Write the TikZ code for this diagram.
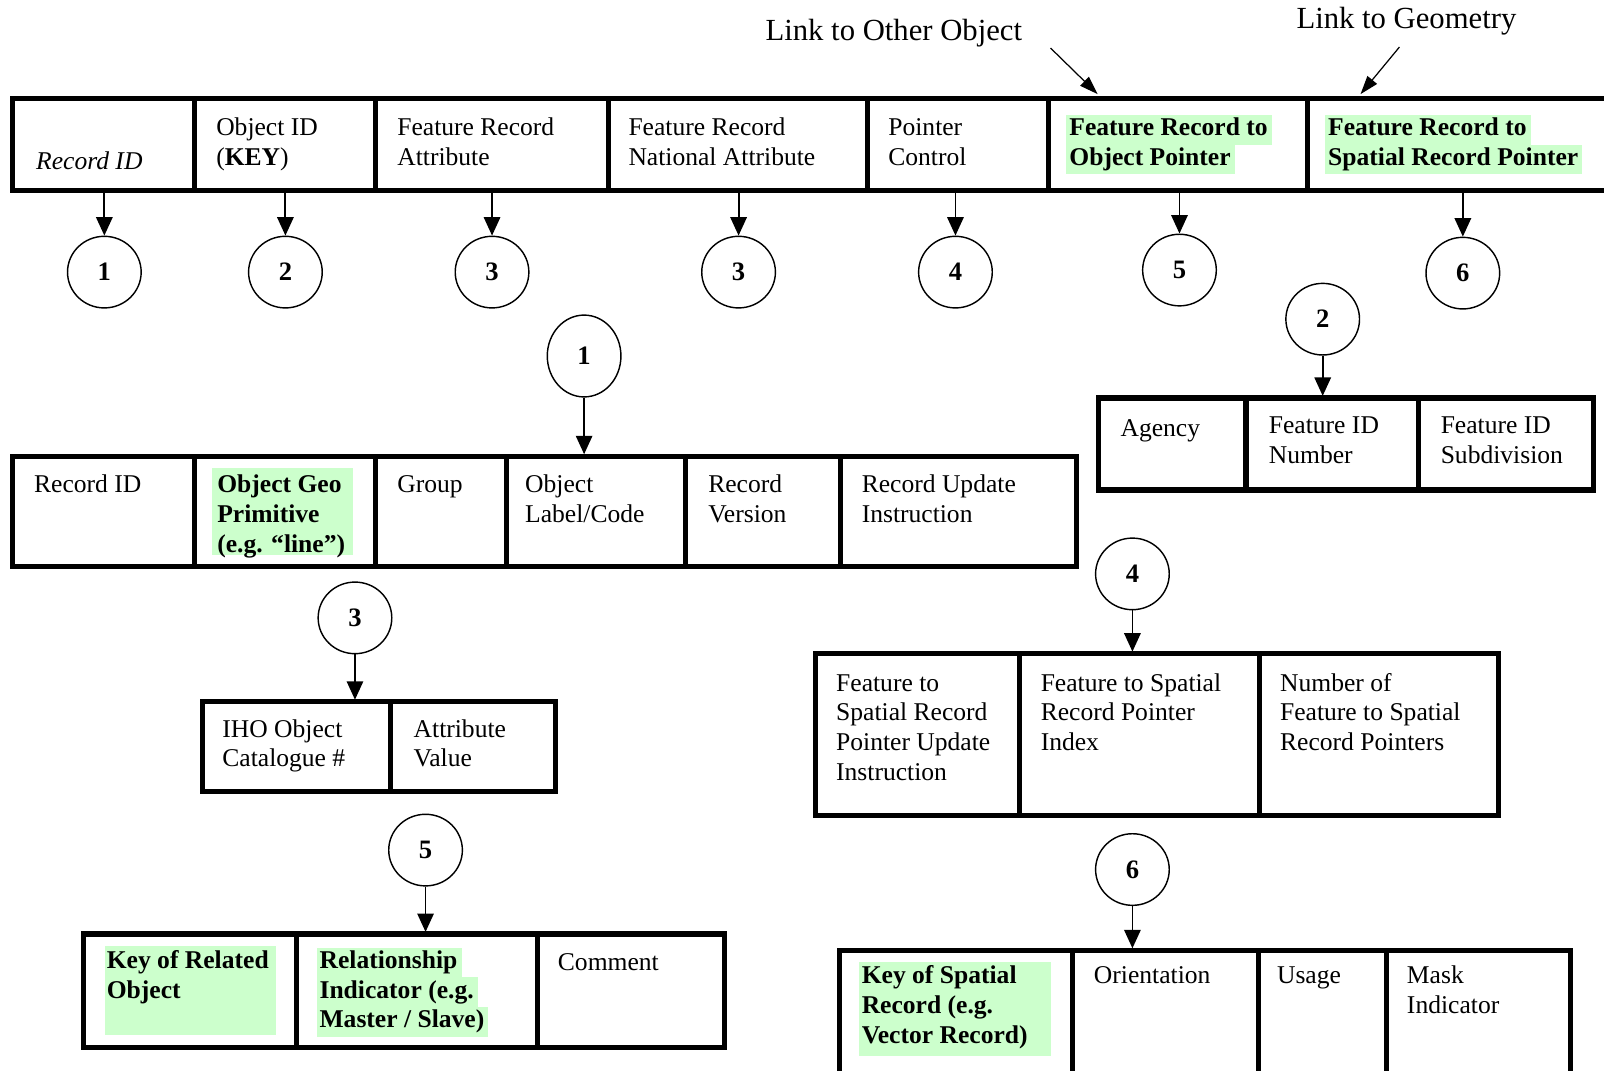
\documentclass[tikz,border=0pt]{standalone}
\usepackage{fontspec}
\setmainfont{Liberation Serif}
\usetikzlibrary{shapes.geometric,arrows.meta}
\definecolor{hl}{RGB}{204,255,204}
\setlength{\fboxsep}{0pt}
\newcommand{\hlline}[1]{\colorbox{hl}{\strut\kern1.5pt #1\kern2pt}}
\begin{document}
\begin{tikzpicture}[x=0.5pt,y=-0.5pt,
  tbl/.style={line width=2.5pt},
  txt/.style={anchor=north west, inner sep=0pt, align=left, font=\fontsize{12.5}{14.5}\selectfont},
  bld/.style={txt, font=\fontsize{12.5}{14.5}\selectfont\bfseries},
  lab/.style={anchor=north west, inner sep=0pt, font=\fontsize{15}{17}\selectfont},
  num/.style={ellipse, draw, line width=0.7pt, inner sep=0pt, minimum width=36pt, minimum height=35pt, font=\bfseries\fontsize{13}{14}\selectfont},
  arr/.style={line width=0.9pt, -{Triangle[width=8pt,length=9pt]}},
  lnk/.style={line width=0.6pt, -{Triangle[width=6pt,length=9pt]}}
]
\useasboundingbox (0,0) rectangle (1568,1046);
\fill[white] (0,0) rectangle (1568,1046);

% block highlights
\fill[hl] (207,457) rectangle (345,543);
\fill[hl] (103,925) rectangle (270,1012);
\fill[hl] (840,940) rectangle (1027,1032);

% tables
\draw[tbl] (12,96) rectangle (1600,186);
\foreach \x in {190,367,595,848,1025,1278} \draw[tbl] (\x,96) -- (\x,186);
\draw[tbl] (12,446) rectangle (1052,554);
\foreach \x in {190,367,495,670,822} \draw[tbl] (\x,446) -- (\x,554);
\draw[tbl] (1074,389) rectangle (1558,479);
\foreach \x in {1218,1387} \draw[tbl] (\x,389) -- (\x,479);
\draw[tbl] (797,639) rectangle (1465,797);
\foreach \x in {997,1231} \draw[tbl] (\x,639) -- (\x,797);
\draw[tbl] (821,929) rectangle (1535,1080);
\foreach \x in {1048,1230,1355} \draw[tbl] (\x,929) -- (\x,1080);
\draw[tbl] (198,686) rectangle (543,774);
\draw[tbl] (382,686) -- (382,774);
\draw[tbl] (82,913) rectangle (708,1024);
\foreach \x in {290,525} \draw[tbl] (\x,913) -- (\x,1024);

% link labels
\node[lab] (lo) at (748,18) {Link to Other Object};
\node[lab] (lg) at (1267,7) {Link to Geometry};
\coordinate (lo1) at (1027,47);
\coordinate (lo2) at (1073,92);
\coordinate (lg1) at (1368,46);
\coordinate (lg2) at (1330,92);
\draw[lnk] (lo1) -- (lo2);
\draw[lnk] (lg1) -- (lg2);

% top row texts
\node[txt] (r1) at (35,145) {\strut\textit{Record ID}};
\node[txt] (r2) at (211,112) {\strut Object ID\\(\textbf{KEY})};
\node[txt] (r3) at (388,112) {\strut Feature Record\\Attribute};
\node[txt] (r4) at (614,112) {\strut Feature Record\\National Attribute};
\node[txt] (r5) at (868,112) {\strut Pointer\\Control};
\node[bld] (r6) at (1042,112) {\hlline{Feature Record to}\\\hlline{Object Pointer}};
\node[bld] (r7) at (1295,112) {\hlline{Feature Record to}\\\hlline{Spatial Record Pointer}};

% top row circles
\node[num] (c1) at (102,266) {1};
\node[num] (c2) at (279,266) {2};
\node[num] (c3) at (481,266) {3};
\node[num] (c3b) at (722,266) {3};
\node[num] (c4) at (934,266) {4};
\node[num] (c5) at (1153,264) {5};
\node[num] (c6) at (1430,267) {6};
\foreach \n/\x in {c1/102,c2/279,c3/481,c3b/722,c4/934,c5/1153,c6/1430}{
  \coordinate (s\n) at (\x,188);
  \draw[arr] (s\n) -- (\n.north);
}

% record table 2 texts
\node[txt] (b1) at (33,461) {\strut Record ID};
\node[bld] (b2) at (212,461) {\strut Object Geo\\Primitive\\(e.g. “line”)};
\node[txt] (b3) at (388,461) {\strut Group};
\node[txt] (b4) at (513,461) {\strut Object\\Label/Code};
\node[txt] (b5) at (692,461) {\strut Record\\Version};
\node[txt] (b6) at (842,461) {\strut Record Update\\Instruction};
\node[num, minimum height=40pt] (m1) at (571,348) {1};
\coordinate (e1) at (571,444);
\draw[arr] (m1.south) -- (e1);

% agency table
\node[txt] (g1) at (1095,406) {\strut Agency};
\node[txt] (g2) at (1240,403) {\strut Feature ID\\Number};
\node[txt] (g3) at (1408,403) {\strut Feature ID\\Subdivision};
\node[num] (m2) at (1293,312) {2};
\coordinate (e2) at (1293,387);
\draw[arr] (m2.south) -- (e2);

% table 4
\node[txt] (p1) at (817,655) {\strut Feature to\\Spatial Record\\Pointer Update\\Instruction};
\node[txt] (p2) at (1017,655) {\strut Feature to Spatial\\Record Pointer\\Index};
\node[txt] (p3) at (1251,655) {\strut Number of\\Feature to Spatial\\Record Pointers};
\node[num] (m4) at (1107,561) {4};
\coordinate (e4) at (1107,637);
\draw[arr] (m4.south) -- (e4);

% table 6
\node[bld] (q1) at (842,941) {\strut Key of Spatial\\Record (e.g.\\Vector Record)};
\node[txt] (q2) at (1069,941) {\strut Orientation};
\node[txt] (q3) at (1248,941) {\strut Usage};
\node[txt] (q4) at (1375,941) {\strut Mask\\Indicator};
\node[num] (m6) at (1107,850) {6};
\coordinate (e6) at (1107,927);
\draw[arr] (m6.south) -- (e6);

% table 3b
\node[txt] (i1) at (217,700) {\strut IHO Object\\Catalogue \#};
\node[txt] (i2) at (404,700) {\strut Attribute\\Value};
\node[num] (m3) at (347,604) {3};
\coordinate (e3) at (347,684);
\draw[arr] (m3.south) -- (e3);

% table 5
\node[bld] (k1) at (104,926) {\strut Key of Related\\Object};
\node[bld] (k2) at (309,926) {\hlline{Relationship}\\\hlline{Indicator (e.g.}\\\hlline{Master / Slave)}};
\node[txt] (k3) at (545,928) {\strut Comment};
\node[num] (m5) at (416,831) {5};
\coordinate (e5) at (416,911);
\draw[arr] (m5.south) -- (e5);
\end{tikzpicture}
\end{document}
